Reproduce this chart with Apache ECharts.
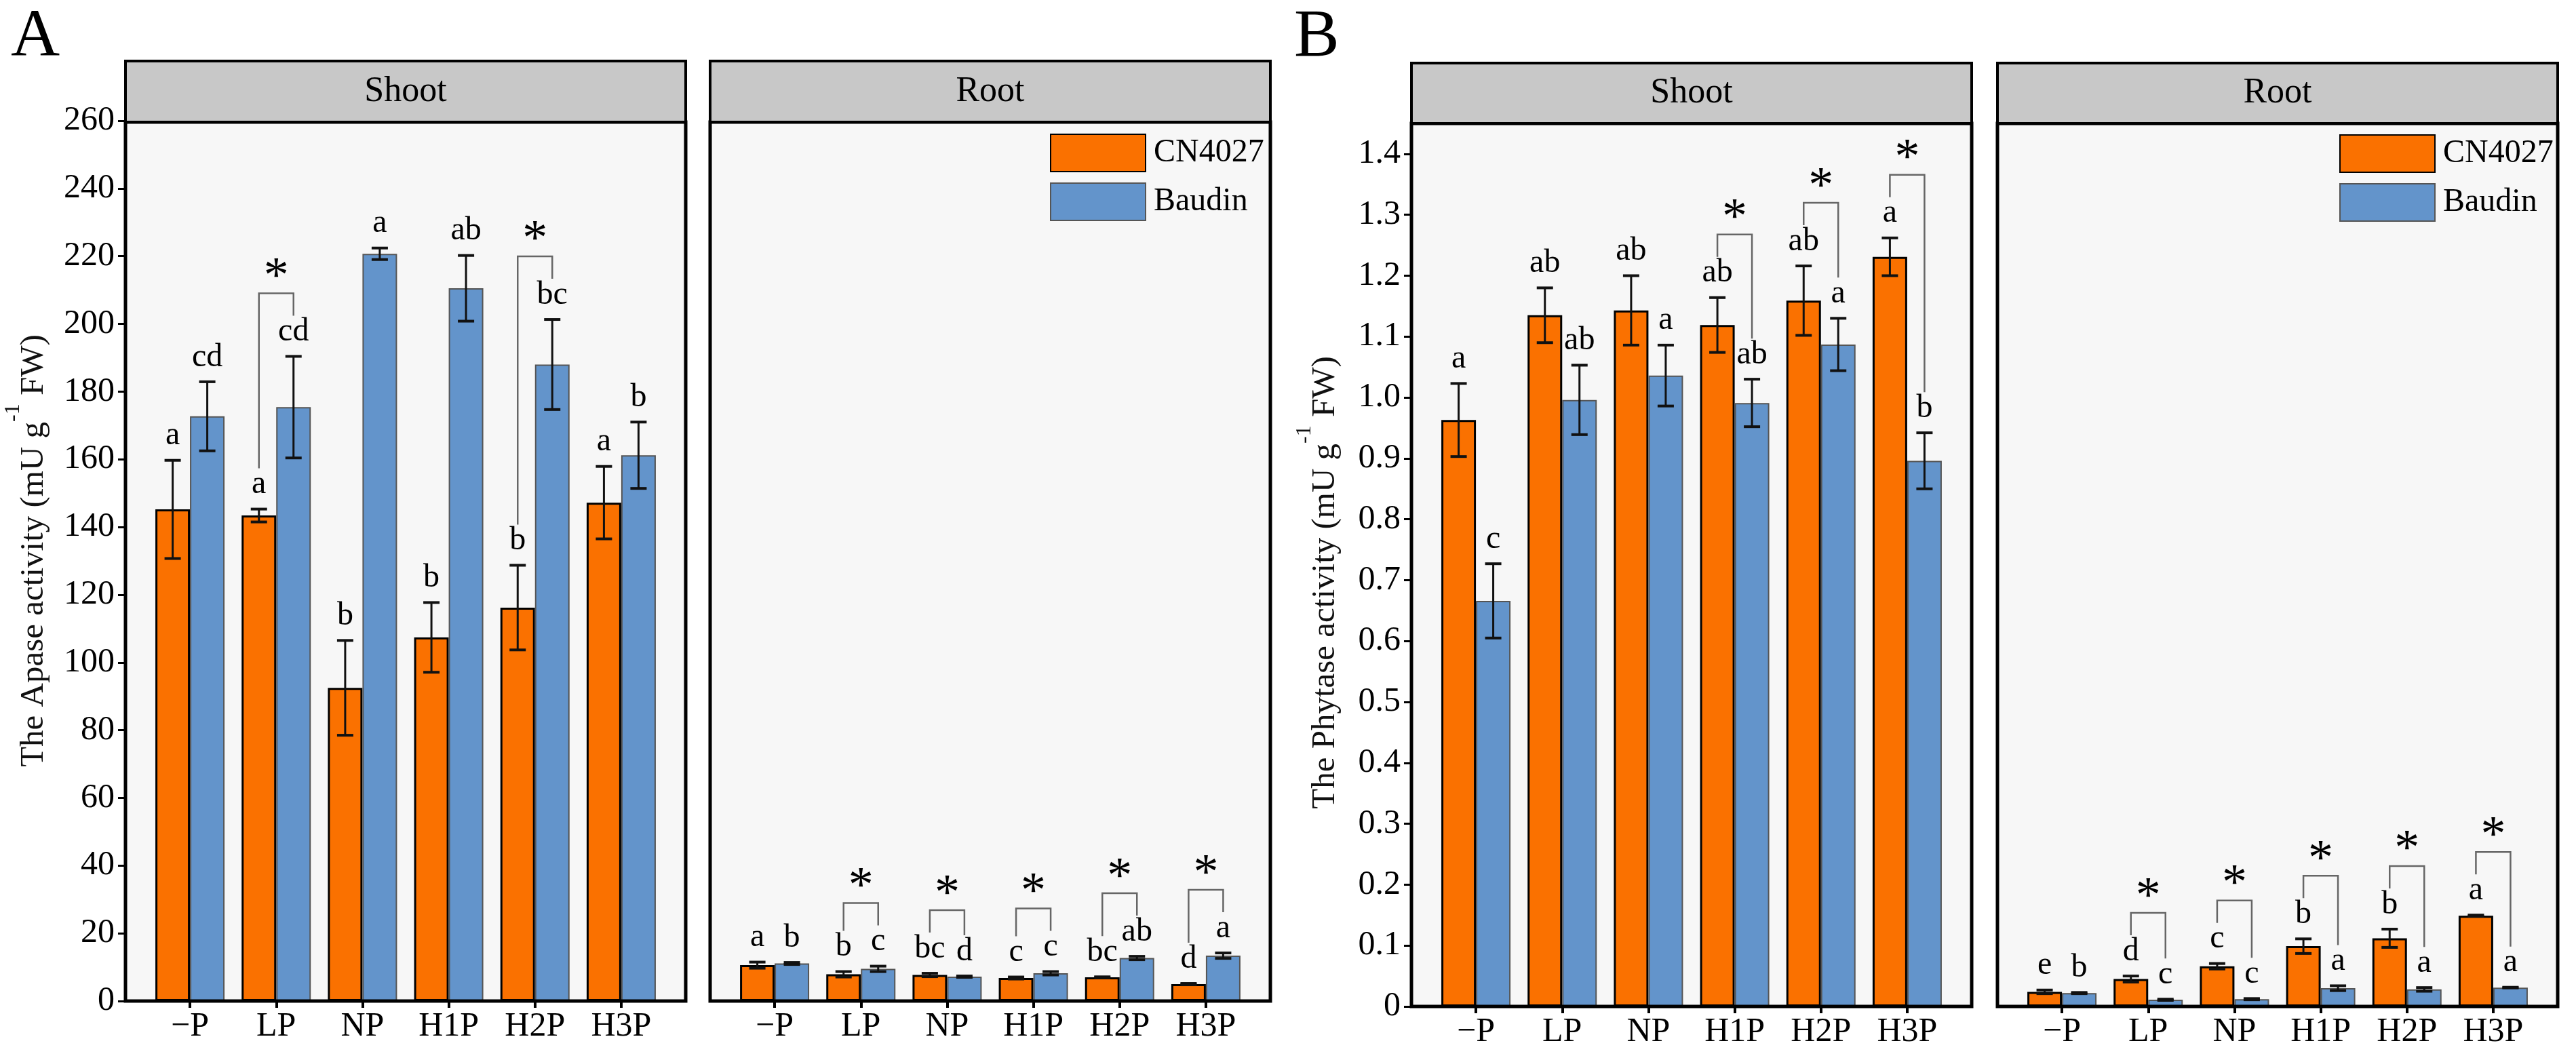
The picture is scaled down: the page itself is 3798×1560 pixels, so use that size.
<!DOCTYPE html>
<html><head><meta charset="utf-8">
<script src="https://cdn.jsdelivr.net/npm/echarts@6/dist/echarts.min.js"></script>
<style>html,body{margin:0;padding:0;background:#fff}#c{width:3798px;height:1560px}</style>
</head><body><div id="c"></div>
<script>
// ---------------- DATA ----------------
const categories = ['\u2212P', 'LP', 'NP', 'H1P', 'H2P', 'H3P'];
const seriesNames = ['CN4027', 'Baudin'];
const facetNames = ['Shoot', 'Root'];

// Panel A : Apase activity
const apaseShootCN = [145.2, 143.4, 92.5, 107.4, 116.2, 147.2];
const apaseShootCNErr = [14.5, 1.9, 14.0, 10.3, 12.5, 10.7];
const apaseShootBa = [172.7, 175.4, 220.7, 210.5, 188.0, 161.2];
const apaseShootBaErr = [10.2, 15.0, 1.7, 9.7, 13.3, 9.8];
const apaseShootCNLetters = ['a', 'a', 'b', 'b', 'b', 'a'];
const apaseShootBaLetters = ['cd', 'cd', 'a', 'ab', 'bc', 'b'];
const apaseShootStars = [0, 1, 0, 0, 1, 0];

const apaseRootCN = [10.6, 7.9, 7.7, 6.8, 7.0, 5.0];
const apaseRootCNErr = [0.9, 0.8, 0.5, 0.3, 0.15, 0.2];
const apaseRootBa = [11.1, 9.5, 7.2, 8.2, 12.7, 13.4];
const apaseRootBaErr = [0.3, 0.8, 0.2, 0.5, 0.5, 0.8];
const apaseRootCNLetters = ['a', 'b', 'bc', 'c', 'bc', 'd'];
const apaseRootBaLetters = ['b', 'c', 'd', 'c', 'ab', 'a'];
const apaseRootStars = [0, 1, 1, 1, 1, 1];

const apaseYMax = 260;
const apaseYInterval = 20;

// Panel B : Phytase activity
const phytaseShootCN = [0.963, 1.135, 1.143, 1.119, 1.159, 1.231];
const phytaseShootCNErr = [0.060, 0.045, 0.057, 0.045, 0.057, 0.031];
const phytaseShootBa = [0.666, 0.996, 1.036, 0.991, 1.087, 0.896];
const phytaseShootBaErr = [0.061, 0.057, 0.050, 0.039, 0.043, 0.046];
const phytaseShootCNLetters = ['a', 'ab', 'ab', 'ab', 'ab', 'a'];
const phytaseShootBaLetters = ['c', 'ab', 'a', 'ab', 'a', 'b'];
const phytaseShootStars = [0, 0, 0, 1, 1, 1];

const phytaseRootCN = [0.024, 0.045, 0.066, 0.099, 0.112, 0.149];
const phytaseRootCNErr = [0.003, 0.005, 0.0045, 0.012, 0.015, 0.001];
const phytaseRootBa = [0.022, 0.011, 0.012, 0.030, 0.028, 0.031];
const phytaseRootBaErr = [0.001, 0.001, 0.001, 0.004, 0.003, 0.0005];
const phytaseRootCNLetters = ['e', 'd', 'c', 'b', 'b', 'a'];
const phytaseRootBaLetters = ['b', 'c', 'c', 'a', 'a', 'a'];
const phytaseRootStars = [0, 1, 1, 1, 1, 1];

const phytaseYMax = 1.45;
const phytaseTicks = [0, 0.1, 0.2, 0.3, 0.4, 0.5, 0.6, 0.7, 0.8, 0.9, 1.0, 1.1, 1.2, 1.3, 1.4];

const apaseTitle = '{m|The Apase activity (mU g}{s|-1}{m| FW)}';
const phytaseTitle = '{m|The Phytase activity (mU g}{s|-1}{m| FW)}';

// ---------------- STYLE / LAYOUT ----------------
const FONT = "'Liberation Serif', 'Times New Roman', serif";
const ORANGE = '#FA7100';
const BLUE = '#6394CB';
const BG = '#F7F7F7';
const STRIP = '#C8C8C8';
const FRAME_W = 826, INSET = 31.5, BAR_W = 51;

const layout = [
  { x: 185,  strip: 90, top: 180, gridTop: 178, bottom: 1476 },
  { x: 1047, strip: 90, top: 180, gridTop: 178, bottom: 1476 },
  { x: 2081, strip: 93, top: 182, gridTop: 182, bottom: 1484 },
  { x: 2945, strip: 93, top: 182, gridTop: 182, bottom: 1484 }
];

const panels = [
  { cn: apaseShootCN, cnErr: apaseShootCNErr, ba: apaseShootBa, baErr: apaseShootBaErr, cnL: apaseShootCNLetters, baL: apaseShootBaLetters, stars: apaseShootStars, facet: facetNames[0] },
  { cn: apaseRootCN, cnErr: apaseRootCNErr, ba: apaseRootBa, baErr: apaseRootBaErr, cnL: apaseRootCNLetters, baL: apaseRootBaLetters, stars: apaseRootStars, facet: facetNames[1] },
  { cn: phytaseShootCN, cnErr: phytaseShootCNErr, ba: phytaseShootBa, baErr: phytaseShootBaErr, cnL: phytaseShootCNLetters, baL: phytaseShootBaLetters, stars: phytaseShootStars, facet: facetNames[0] },
  { cn: phytaseRootCN, cnErr: phytaseRootCNErr, ba: phytaseRootBa, baErr: phytaseRootBaErr, cnL: phytaseRootCNLetters, baL: phytaseRootBaLetters, stars: phytaseRootStars, facet: facetNames[1] }
];

const grids = [], xAxes = [], yAxes = [], series = [], graphics = [];

layout.forEach((L, gi) => {
  grids.push({ left: L.x + INSET, width: FRAME_W - 2 * INSET, top: L.gridTop, height: L.bottom - L.gridTop, containLabel: false });
  xAxes.push({
    type: 'category', gridIndex: gi, data: categories,
    axisLine: { show: false },
    axisTick: { show: true, alignWithLabel: true, length: 10, lineStyle: { color: '#000', width: 4 } },
    axisLabel: { interval: 0, margin: 13, fontSize: 50, fontFamily: FONT, color: '#000' },
    splitLine: { show: false }
  });
  const isA = gi < 2, isShoot = gi % 2 === 0;
  const y = {
    type: 'value', gridIndex: gi, min: 0, max: isA ? apaseYMax : phytaseYMax,
    offset: INSET,
    splitLine: { show: false },
    axisLine: { show: false },
    axisTick: { show: isShoot, length: 11, lineStyle: { color: '#000', width: 3 } },
    axisLabel: { show: isShoot, margin: 16, fontSize: 50, fontFamily: FONT, color: '#000' }
  };
  if (isA) {
    y.interval = apaseYInterval;
  } else {
    y.interval = 0.1;
    y.axisLabel.customValues = phytaseTicks;
    y.axisTick.customValues = phytaseTicks;
    y.axisLabel.formatter = v => (v === 0 ? '0' : v.toFixed(1));
  }
  yAxes.push(y);

  const P = panels[gi];
  series.push({
    type: 'bar', name: seriesNames[0], xAxisIndex: gi, yAxisIndex: gi, data: P.cn,
    barWidth: BAR_W, barGap: '0%', z: 3,
    itemStyle: { color: ORANGE, borderColor: '#000', borderWidth: 3 }
  });
  series.push({
    type: 'bar', name: seriesNames[1], xAxisIndex: gi, yAxisIndex: gi, data: P.ba,
    barWidth: BAR_W, barGap: '0%', z: 3,
    itemStyle: { color: BLUE, borderColor: '#555', borderWidth: 2 }
  });

  const errSeries = (means, errs, letters, side) => ({
    type: 'custom', xAxisIndex: gi, yAxisIndex: gi, z: 6, silent: true,
    data: means.map((m, i) => [i, m, errs[i]]),
    renderItem: (params, api) => {
      const i = api.value(0), m = api.value(1), e = api.value(2);
      const c = api.coord([i, m]);
      const x = c[0] + side * BAR_W / 2;
      const yT = api.coord([i, m + e])[1];
      const yB = api.coord([i, m - e])[1];
      return {
        type: 'group', children: [
          { type: 'line', shape: { x1: x, y1: yT, x2: x, y2: yB }, style: { stroke: '#111', lineWidth: 3 } },
          { type: 'line', shape: { x1: x - 12, y1: yT, x2: x + 12, y2: yT }, style: { stroke: '#111', lineWidth: 4 } },
          { type: 'line', shape: { x1: x - 12, y1: yB, x2: x + 12, y2: yB }, style: { stroke: '#111', lineWidth: 4 } },
          { type: 'text', x: x, y: yT - 36, style: { text: letters[params.dataIndex], fontSize: 48, fontFamily: FONT, fill: '#000', align: 'center', verticalAlign: 'middle' } }
        ]
      };
    }
  });
  series.push(errSeries(P.cn, P.cnErr, P.cnL, -1));
  series.push(errSeries(P.ba, P.baErr, P.baL, 1));

  series.push({
    type: 'custom', xAxisIndex: gi, yAxisIndex: gi, z: 7, silent: true,
    data: P.stars.map((s, i) => s ? [i, P.cn[i] + P.cnErr[i], P.ba[i] + P.baErr[i]] : null).filter(Boolean),
    renderItem: (params, api) => {
      const i = api.value(0);
      const pO = api.coord([i, api.value(1)]);
      const pB = api.coord([i, api.value(2)]);
      const xL = pO[0] - BAR_W / 2, xR = pO[0] + BAR_W / 2;
      const legL = pO[1] - 60, legR = pB[1] - 60;
      const top = Math.min(legL, legR) - 33;
      return {
        type: 'group', children: [
          { type: 'polyline', shape: { points: [[xL, legL], [xL, top], [xR, top], [xR, legR]] }, style: { stroke: '#666', lineWidth: 2.5, fill: null } },
          { type: 'text', x: pO[0], y: top - 22, style: { text: '*', fontSize: 74, fontFamily: FONT, fill: '#000', align: 'center', verticalAlign: 'middle' } }
        ]
      };
    }
  });

  // frame and strip
  graphics.push({ type: 'rect', z: -10, shape: { x: L.x, y: L.top, width: FRAME_W, height: L.bottom - L.top }, style: { fill: BG } });
  graphics.push({ type: 'rect', z: 100, shape: { x: L.x, y: L.top, width: FRAME_W, height: L.bottom - L.top }, style: { fill: null, stroke: '#000', lineWidth: 5 } });
  graphics.push({ type: 'rect', z: 100, shape: { x: L.x, y: L.strip, width: FRAME_W, height: L.top - L.strip }, style: { fill: STRIP, stroke: '#000', lineWidth: 4 } });
  graphics.push({ type: 'text', z: 101, x: L.x + FRAME_W / 2, y: (L.strip + L.top) / 2, style: { text: P.facet, fontSize: 52, fontFamily: FONT, fill: '#000', align: 'center', verticalAlign: 'middle' } });
});

// panel letters & y titles
graphics.push({ type: 'text', z: 101, x: 16, y: 56, style: { text: 'A', fontSize: 100, fontFamily: FONT, fill: '#000', align: 'left', verticalAlign: 'middle' } });
graphics.push({ type: 'text', z: 101, x: 1908, y: 56, style: { text: 'B', fontSize: 100, fontFamily: FONT, fill: '#000', align: 'left', verticalAlign: 'middle' } });
const titleRich = { m: { fontSize: 49, fontFamily: FONT, fill: '#111' }, s: { fontSize: 32, fontFamily: FONT, fill: '#111', padding: [0, 0, 60, 0] } };
graphics.push({ type: 'text', z: 101, x: 50, y: 812, rotation: Math.PI / 2, style: { text: apaseTitle, rich: titleRich, fontFamily: FONT, align: 'center', verticalAlign: 'middle' } });
graphics.push({ type: 'text', z: 101, x: 1954, y: 859, rotation: Math.PI / 2, style: { text: phytaseTitle, rich: titleRich, fontFamily: FONT, align: 'center', verticalAlign: 'middle' } });

const legendBase = {
  orient: 'vertical', data: seriesNames, icon: 'rect', itemWidth: 140, itemHeight: 55, itemGap: 15, padding: 0,
  selectedMode: false,
  textStyle: { fontSize: 48, fontFamily: FONT, color: '#000', padding: [0, 0, 0, 7] }
};

const option = {
  animation: false,
  backgroundColor: '#fff',
  textStyle: { fontFamily: FONT },
  grid: grids,
  xAxis: xAxes,
  yAxis: yAxes,
  series: series,
  legend: [
    Object.assign({}, legendBase, { left: 1548, top: 197 }),
    Object.assign({}, legendBase, { left: 3449, top: 198 })
  ],
  graphic: { elements: graphics }
};

const chart = echarts.init(document.getElementById('c'), null, { renderer: 'canvas', width: 3798, height: 1560 });
chart.setOption(option);
</script>
</body></html>
